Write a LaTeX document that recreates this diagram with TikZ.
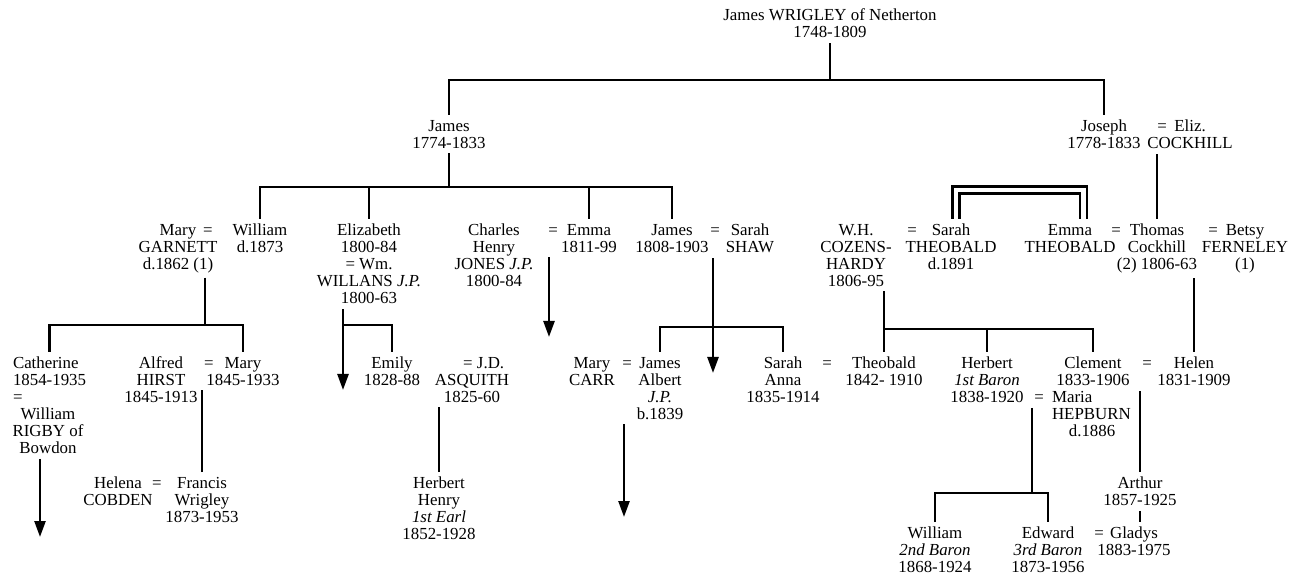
\documentclass[tikz,border=0pt]{standalone}
\usepackage{fontspec}
\setmainfont{Liberation Serif}
\usetikzlibrary{arrows.meta}
\tikzset{
  person/.style={
    anchor=north, align=center, inner sep=0pt, outer sep=1mm,
    font=\fontsize{9.6}{9.7}\selectfont
  },
  spouse/.style={person, text height=6.4pt, text depth=0pt},
  descent/.style={line width=1.4pt},
  issue/.style={descent, -{Triangle[width=2.2mm,length=3.2mm]}},
  sisters/.style={descent, double, double distance=2.4pt}
}

\begin{document}
\begin{tikzpicture}[x=0.2mm, y=-0.2mm]
  \useasboundingbox (0,0) rectangle (1289,577);

  % First generation
  \node[person] (top) at (830,4) {James WRIGLEY of Netherton\\1748-1809};

  % Second generation
  \node[person] (james1) at (449,115) {James\\1774-1833};
  \node[person] (joseph) at (1104,115) {Joseph\\1778-1833};
  \node[spouse] (eq1) at (1162,115) {=};
  \node[person] (cockhill) at (1190,115) {Eliz.\\COCKHILL};

  % Third generation
  \node[person] (maryg) at (178,219) {Mary\\GARNETT\\d.1862 (1)};
  \node[spouse] (eq2) at (208,219) {=};
  \node[person] (william) at (260,219) {William\\d.1873};
  \node[person] (eliz) at (369,219) {Elizabeth\\1800-84\\= Wm.\\WILLANS \textit{J.P.}\\1800-63};
  \node[person] (jones) at (494,219) {Charles\\Henry\\JONES \textit{J.P.}\\1800-84};
  \node[spouse] (eq3) at (553,219) {=};
  \node[person] (emma) at (589,219) {Emma\\1811-99};
  \node[person] (james2) at (672,219) {James\\1808-1903};
  \node[spouse] (eq4) at (715,219) {=};
  \node[person] (sarahs) at (750,219) {Sarah\\SHAW};
  \node[person] (cozens) at (856,219) {W.H.\\COZENS-\\HARDY\\1806-95};
  \node[spouse] (eq5) at (912,219) {=};
  \node[person] (saraht) at (951,219) {Sarah\\THEOBALD\\d.1891};
  \node[person] (emmat) at (1070,219) {Emma\\THEOBALD};
  \node[spouse] (eq6) at (1116,219) {=};
  \node[person] (thomas) at (1157,219) {Thomas\\Cockhill\\(2) 1806-63};
  \node[spouse] (eq7) at (1213,219) {=};
  \node[person] (betsy) at (1245,219) {Betsy\\FERNELEY\\(1)};

  % Fourth generation
  \node[person, anchor=north west, align=left] (cath) at (8,352) {Catherine\\1854-1935\\=};
  \node[person] (rigby) at (48,403) {William\\RIGBY of\\Bowdon};
  \node[person] (alfred) at (161,352) {Alfred\\HIRST\\1845-1913};
  \node[spouse] (eq8) at (209,352) {=};
  \node[person] (maryh) at (243,352) {Mary\\1845-1933};
  \node[person] (emily) at (392,352) {Emily\\1828-88};
  \node[spouse] (eq9) at (468,352) {=};
  \node[person] (asquith) at (472,352) {\hspace*{2.2em}J.D.\\ASQUITH\\1825-60};
  \node[person] (maryc) at (592,352) {Mary\\CARR};
  \node[spouse] (eq10) at (627,352) {=};
  \node[person] (jalbert) at (660,352) {James\\Albert\\\textit{J.P.}\\b.1839};
  \node[person] (sarana) at (783,352) {Sarah\\Anna\\1835-1914};
  \node[spouse] (eq11) at (827,352) {=};
  \node[person] (theob) at (884,352) {Theobald\\1842- 1910};
  \node[person] (herbert) at (987,352) {Herbert\\\textit{1st Baron}\\1838-1920};
  \node[spouse] (eq12) at (1039,386) {=};
  \node[person, anchor=north west, align=left] (maria) at (1047,386) {Maria\\HEPBURN\\\hspace*{1em}d.1886};
  \node[person] (clement) at (1093,352) {Clement\\1833-1906};
  \node[spouse] (eq13) at (1147,352) {=};
  \node[person] (helen) at (1194,352) {Helen\\1831-1909};

  % Fifth generation
  \node[person] (helena) at (118,472) {Helena\\COBDEN};
  \node[spouse] (eq14) at (157,472) {=};
  \node[person] (francis) at (202,472) {Francis\\Wrigley\\1873-1953};
  \node[person] (herbh) at (439,472) {Herbert\\Henry\\\textit{1st Earl}\\1852-1928};
  \node[person] (arthur) at (1140,472) {Arthur\\1857-1925};

  % Sixth generation
  \node[person] (william2) at (935,522) {William\\\textit{2nd Baron}\\1868-1924};
  \node[person] (edward) at (1048,522) {Edward\\\textit{3rd Baron}\\1873-1956};
  \node[spouse] (eq15) at (1099,522) {=};
  \node[person] (gladys) at (1134,522) {Gladys\\1883-1975};

  % Bars and line ends
  \coordinate (b1) at (830,80);
  \coordinate (b2) at (449,187);
  \coordinate (b3) at (205,325);
  \coordinate (b5) at (343,325);
  \coordinate (b6) at (713,327);
  \coordinate (b7) at (884,329);
  \coordinate (b8) at (1032,493);
  \coordinate (a1) at (40,537);
  \coordinate (a2) at (343,390);
  \coordinate (a3) at (549,337);
  \coordinate (a4) at (713,373);
  \coordinate (a5) at (624,517);

  % Lines of descent
  \draw[descent] (top.south) -- (b1);
  \draw[descent] (james1.north) |- (b1) -| (joseph.north);
  \draw[descent] (james1.south) -- (b2);
  \draw[descent] (william.north) |- (b2) -| (james2.north);
  \draw[descent] (eliz.north) -- (eliz.north |- b2);
  \draw[descent] (emma.north) -- (emma.north |- b2);

  \draw[descent] (b3 |- maryg.south) -- (b3);
  \draw[descent] (cath.north) |- (b3) -| (maryh.north);
  \draw[issue] (a1 |- rigby.south) -- (a1);
  \draw[descent] (francis.north) -- (francis.north |- maryh.south);

  \draw[issue] (a2 |- eliz.south) -- (a2);
  \draw[descent] (b5) -| (emily.north);
  \draw[descent] (herbh.north) -- (herbh.north |- asquith.south);
  \draw[issue] (a3 |- emma.south) -- (a3);

  \draw[issue] (a4 |- sarahs.south) -- (a4);
  \draw[descent] (jalbert.north) |- (b6) -| (sarana.north);
  \draw[issue] (a5 |- jalbert.south) -- (a5);

  \draw[descent] (theob.north) -- (theob.north |- cozens.south);
  \draw[descent] (b7) -| (clement.north);
  \draw[descent] (herbert.north) -- (herbert.north |- b7);
  \draw[descent] (b8 |- herbert.south) -- (b8);
  \draw[descent] (william2.north) |- (b8) -| (edward.north);

  \draw[sisters] ([xshift=1mm]saraht.north) -- ++(0,-29) -| ([xshift=2.7mm]emmat.north);
  \draw[descent] (thomas.north) -- (thomas.north |- joseph.south);
  \draw[descent] (helen.north) -- (helen.north |- thomas.south);
  \draw[descent] (arthur.north) -- (arthur.north |- clement.south);
  \draw[descent] (arthur.south) -- (arthur.south |- gladys.north);

\end{tikzpicture}
\end{document}
